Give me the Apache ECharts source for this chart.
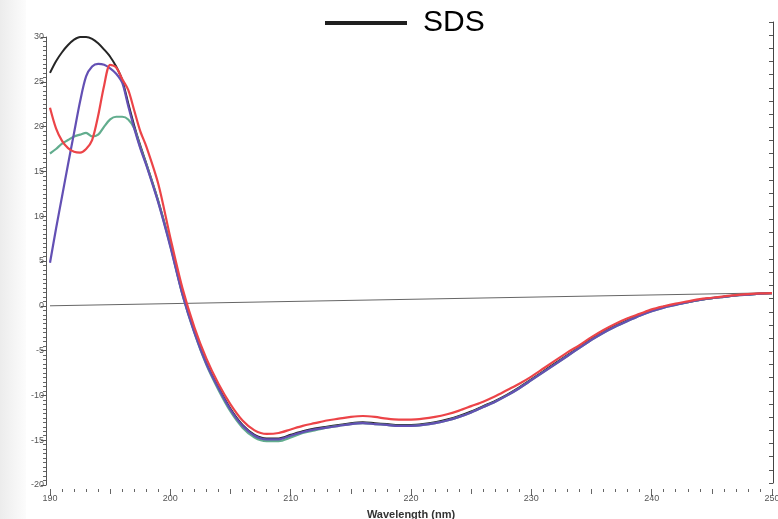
<!DOCTYPE html>
<html>
<head>
<meta charset="utf-8">
<script src="https://cdn.jsdelivr.net/npm/echarts@6/dist/echarts.min.js"></script>
<style>html,body{margin:0;padding:0;background:#fff}#c{width:778px;height:519px}</style>
</head>
<body>
<div id="c"></div>
<script>
// Wavelength grid (nm)
var wavelengths = [190,190.5,191,191.5,192,192.5,193,193.5,194,194.5,195,195.5,196,196.5,197,197.5,198,
  199,200,201,202,203,204,205,206,207,208,209,210,211,212,213,214,215,216,217,218,219,220,
  221,222,223,224,225,226,227,228,229,230,231,232,233,234,235,236,237,238,239,240,
  241,242,243,244,245,246,247,248,249,250];

// SDS (black)
var sdsValues = [26.0,27.3,28.3,29.1,29.7,30.0,30.0,29.8,29.3,28.6,27.8,26.7,25.2,22.6,20.1,17.9,15.9,
  11.7,6.8,1.4,-2.9,-6.4,-9.1,-11.5,-13.3,-14.4,-14.8,-14.8,-14.4,-14.0,-13.7,-13.5,-13.3,-13.1,-13.0,-13.1,-13.2,-13.3,-13.3,
  -13.2,-13.0,-12.7,-12.3,-11.8,-11.2,-10.6,-9.9,-9.1,-8.2,-7.3,-6.4,-5.5,-4.6,-3.7,-2.9,-2.2,-1.6,-1.0,-0.5,
  -0.1,0.15,0.4,0.65,0.85,1.0,1.15,1.25,1.35,1.4];

// purple trace
var purpleValues = [4.8,8.6,12.2,15.8,19.3,22.8,25.6,26.7,27.0,26.9,26.5,25.9,24.9,22.3,19.8,17.6,15.7,
  11.5,6.6,1.3,-3.0,-6.5,-9.2,-11.6,-13.4,-14.5,-14.9,-14.9,-14.5,-14.1,-13.8,-13.6,-13.4,-13.2,-13.1,-13.2,-13.3,-13.4,-13.4,
  -13.3,-13.1,-12.8,-12.4,-11.9,-11.3,-10.7,-10.0,-9.2,-8.3,-7.4,-6.5,-5.6,-4.7,-3.8,-3.0,-2.3,-1.7,-1.1,-0.6,
  -0.2,0.1,0.4,0.65,0.85,1.0,1.15,1.25,1.35,1.4];

// green trace
var greenValues = [17.0,17.5,18.1,18.5,18.9,19.1,19.3,18.9,19.1,20.0,20.8,21.1,21.1,20.8,19.8,17.7,15.8,
  11.6,6.7,1.3,-3.0,-6.6,-9.4,-11.8,-13.6,-14.7,-15.1,-15.1,-14.7,-14.2,-13.9,-13.6,-13.4,-13.2,-13.1,-13.2,-13.3,-13.4,-13.4,
  -13.3,-13.1,-12.8,-12.4,-11.9,-11.3,-10.7,-10.0,-9.2,-8.3,-7.4,-6.5,-5.6,-4.7,-3.8,-3.0,-2.3,-1.7,-1.1,-0.6,
  -0.2,0.1,0.4,0.65,0.85,1.0,1.15,1.25,1.35,1.4];

// red trace
var redValues = [22.1,19.8,18.4,17.6,17.2,17.1,17.5,18.5,21.2,24.6,26.9,26.6,25.3,24.1,21.8,19.5,17.8,
  13.6,7.6,2.0,-2.4,-5.9,-8.7,-11.0,-12.8,-13.9,-14.3,-14.2,-13.8,-13.4,-13.1,-12.8,-12.6,-12.4,-12.3,-12.4,-12.6,-12.7,-12.7,
  -12.6,-12.4,-12.1,-11.7,-11.2,-10.7,-10.1,-9.4,-8.7,-7.9,-7.0,-6.1,-5.2,-4.4,-3.5,-2.7,-2.0,-1.4,-0.9,-0.4,
  -0.05,0.25,0.5,0.75,0.9,1.05,1.2,1.3,1.38,1.42];

// reference baseline as drawn
var baselineX = [190, 250];
var baselineY = [0, 1.45];

var xTicks = [190, 200, 210, 220, 230, 240, 250];
var yTicks = [-20, -15, -10, -5, 0, 5, 10, 15, 20, 25, 30];

function pairs(xs, ys) { return xs.map(function (x, i) { return [x, ys[i]]; }); }

var chart = echarts.init(document.getElementById('c'));
chart.setOption({
  animation: false,
  backgroundColor: '#fff',
  graphic: [{
    type: 'rect', left: 0, top: 0, z: -10,
    shape: { width: 26, height: 519 },
    style: { fill: new echarts.graphic.LinearGradient(0, 0, 1, 0, [{offset: 0, color: '#ececec'}, {offset: 1, color: '#fcfcfc'}]) }
  }],
  legend: {
    data: ['SDS'],
    left: 320, top: 3,
    icon: 'rect',
    itemWidth: 82, itemHeight: 4,
    textStyle: { fontFamily: 'Liberation Sans, Arial', fontSize: 30, color: '#000', lineHeight: 30, padding: [0, 0, 0, 11] }
  },
  grid: [
    { left: 50, right: 6, top: 37, bottom: 34, containLabel: false, outerBoundsMode: 'none' },
    { left: 50, right: 5, top: 22, bottom: 36, containLabel: false, outerBoundsMode: 'none' }
  ],
  xAxis: [
    {
      gridIndex: 0, type: 'value', position: 'bottom', min: 190, max: 250, interval: 10, offset: 4,
      name: 'Wavelength (nm)', nameLocation: 'middle', nameGap: 20,
      nameTextStyle: { fontFamily: 'Liberation Sans, Arial', fontWeight: 'bold', fontSize: 11, color: '#333' },
      axisLine: { show: false, onZero: false },
      axisTick: { show: true, length: 7, lineStyle: { color: '#555' } },
      minorTick: { show: true, splitNumber: 10, length: 3, lineStyle: { color: '#666' } },
      axisLabel: { fontFamily: 'Liberation Sans, Arial', fontSize: 9, color: '#555', margin: 5,
        formatter: function (v) { return xTicks.indexOf(v) >= 0 ? String(v) : ''; } },
      splitLine: { show: false }
    },
    {
      gridIndex: 0, type: 'value', position: 'bottom', min: 190, max: 250, interval: 5, offset: 4,
      axisLine: { show: false, onZero: false },
      axisTick: { show: true, length: 5, lineStyle: { color: '#666' } },
      axisLabel: { show: false },
      splitLine: { show: false }
    },
    {
      gridIndex: 1, type: 'value', min: 190, max: 250, show: false
    }
  ],
  yAxis: [
    {
      gridIndex: 0, type: 'value', position: 'left', min: -20, max: 30, interval: 5, offset: 4,
      axisLine: { show: true, onZero: false, lineStyle: { color: '#555', width: 1 } },
      axisTick: { show: true, length: 5, lineStyle: { color: '#555' } },
      minorTick: { show: true, splitNumber: 10, length: 3, lineStyle: { color: '#666' } },
      axisLabel: { fontFamily: 'Liberation Sans, Arial', fontSize: 9, color: '#555', margin: 2,
        formatter: function (v) { return yTicks.indexOf(v) >= 0 ? String(v) : ''; } },
      splitLine: { show: false }
    },
    {
      gridIndex: 1, type: 'value', position: 'right', min: 0, max: 35, interval: 1,
      axisLine: { show: true, onZero: false, lineStyle: { color: '#444', width: 1 } },
      axisTick: { show: true, inside: true, length: 4, lineStyle: { color: '#555' } },
      axisLabel: { show: false },
      splitLine: { show: false }
    }
  ],
  series: [
    {
      name: 'baseline', type: 'line', xAxisIndex: 0, yAxisIndex: 0, data: pairs(baselineX, baselineY),
      showSymbol: false, lineStyle: { color: '#666', width: 1 }, z: 1, silent: true
    },
    {
      name: 'SDS', type: 'line', xAxisIndex: 0, yAxisIndex: 0, data: pairs(wavelengths, sdsValues),
      showSymbol: false, smooth: 0.3, color: '#1f1f1f', lineStyle: { color: '#252525', width: 2 }, z: 2
    },
    {
      name: 'green', type: 'line', xAxisIndex: 0, yAxisIndex: 0, data: pairs(wavelengths, greenValues),
      showSymbol: false, smooth: 0.3, lineStyle: { color: '#62ad8e', width: 2.2 }, z: 3
    },
    {
      name: 'purple', type: 'line', xAxisIndex: 0, yAxisIndex: 0, data: pairs(wavelengths, purpleValues),
      showSymbol: false, smooth: 0.3, lineStyle: { color: '#6350b4', width: 2.2 }, z: 4
    },
    {
      name: 'red', type: 'line', xAxisIndex: 0, yAxisIndex: 0, data: pairs(wavelengths, redValues),
      showSymbol: false, smooth: 0.3, lineStyle: { color: '#ec4448', width: 2.2 }, z: 5
    }
  ]
});
</script>
</body>
</html>
